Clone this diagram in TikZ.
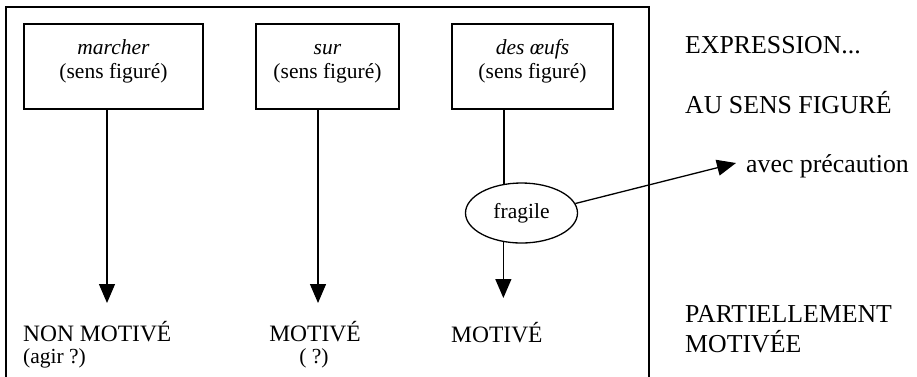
\documentclass[tikz,border=0pt]{standalone}
\usepackage{fontspec}
\setmainfont{Liberation Serif}
\usetikzlibrary{arrows.meta,shapes.geometric}
\begin{document}
\begin{tikzpicture}[x=1pt,y=-1pt,
  lw/.style={line width=1.3pt},
  box/.style={draw, lw, rectangle, minimum height=85pt, inner sep=0pt},
  small/.style={font=\fontsize{21.5}{25}\selectfont, inner sep=0pt},
  big/.style={font=\fontsize{23.5}{27}\selectfont, inner sep=0pt},
  side/.style={font=\fontsize{25.8}{30}\selectfont, inner sep=0pt},
  arr/.style={lw, -{Triangle[length=19pt,width=16pt]}},
  conn/.style={lw}]
\useasboundingbox (0,0) rectangle (917,376);
% outer frame (open at the bottom edge of the picture)
\draw[lw] (6,380) -- (6,7) -- (649,7) -- (649,380);

% boxes
\node[box, minimum width=179pt] (b1) at (113.5,66.5) {};
\node[box, minimum width=143pt] (b2) at (327.5,66.5) {};
\node[box, minimum width=161pt] (b3) at (532.5,66.5) {};
\node[small, anchor=base] (t1a) at (113.5,54) {\textit{marcher}};
\node[small, anchor=base] (t1b) at (113.5,78) {(sens figuré)};
\node[small, anchor=base] (t2a) at (327.5,54) {\textit{sur}};
\node[small, anchor=base] (t2b) at (327.5,78) {(sens figuré)};
\node[small, anchor=base] (t3a) at (532.5,54) {\textit{des œufs}};
\node[small, anchor=base] (t3b) at (532.5,78) {(sens figuré)};

% ellipse
\node[ellipse, draw, lw, minimum width=112pt, minimum height=60pt, inner sep=0pt,
      font=\fontsize{21.5}{25}\selectfont] (el) at (521.5,213) {fragile};

% right-hand texts
\node[side, anchor=base west] (ex) at (685,53) {EXPRESSION...};
\node[side, anchor=base west] (au) at (685,113) {AU SENS FIGURÉ};
\node[side, anchor=base west] (ap) at (746,172) {avec précaution};
\node[side, anchor=base west] (pm1) at (685,322) {PARTIELLEMENT};
\node[side, anchor=base west] (pm2) at (685,352) {MOTIVÉE};

% bottom labels
\node[big, anchor=base west] (nm) at (23,341) {NON MOTIVÉ};
\node[small, anchor=base west] (ag) at (23,363) {(agir ?)};
\node[big, anchor=base] (m2) at (315,341) {MOTIVÉ};
\node[small, anchor=base] (q2) at (314,363) {( ?)};
\node[big, anchor=base west] (m3) at (451,342) {MOTIVÉ};

% connectors
\coordinate (e1) at (107,303);
\coordinate (e2) at (318,303);
\draw[arr] (b1.south -| e1) -- (e1);
\draw[arr] (b2.south -| e2) -- (e2);
\draw[conn] (b3.south -| el.121.6) -- (el.121.6);
\coordinate (e3) at (el.238.4 |- 0,298);
\draw[arr] (el.238.4) -- (e3);
\coordinate (e4) at (736,163);
\draw[arr] (el.10) -- (e4);
\end{tikzpicture}
\end{document}
